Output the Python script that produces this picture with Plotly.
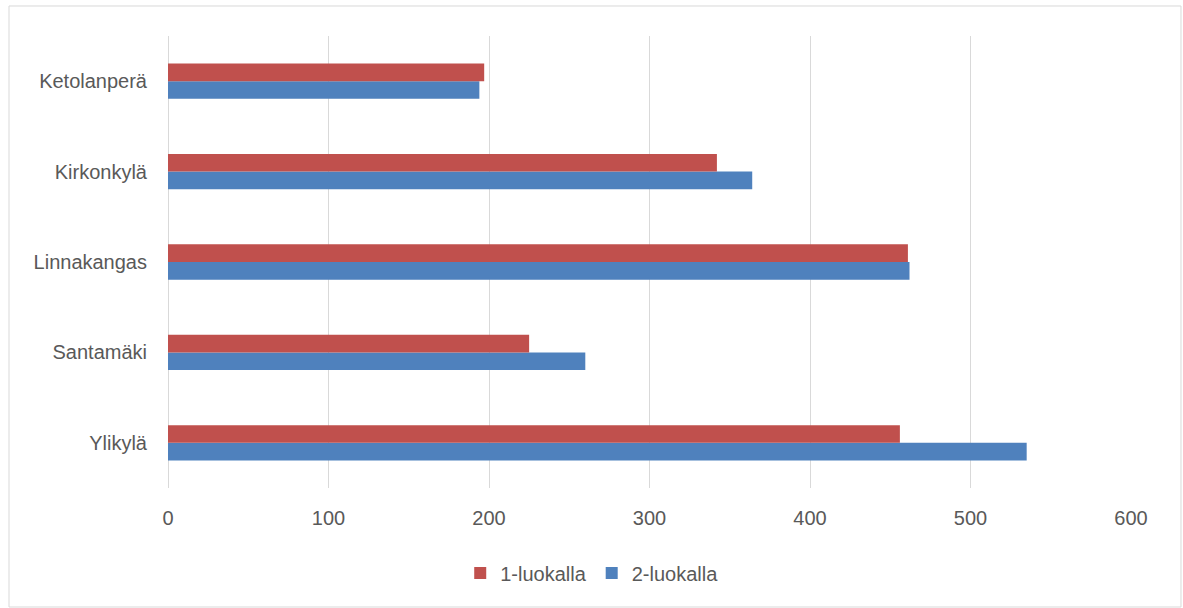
import plotly.graph_objects as go

categories = ["Ylikylä", "Santamäki", "Linnakangas", "Kirkonkylä", "Ketolanperä"]
luokka1 = [456, 225, 461, 342, 197]
luokka2 = [535, 260, 462, 364, 194]

fig = go.Figure()
fig.add_trace(go.Bar(y=categories, x=luokka2, orientation="h", name="2-luokalla",
                     marker=dict(color="#4F81BD", line=dict(width=0)), legendrank=2))
fig.add_trace(go.Bar(y=categories, x=luokka1, orientation="h", name="1-luokalla",
                     marker=dict(color="#C0504D", line=dict(width=0)), legendrank=1))

font_color = "#595959"
fig.update_layout(
    width=1183, height=608,
    margin=dict(l=168, r=52, t=36, b=120),
    paper_bgcolor="white", plot_bgcolor="white",
    barmode="group", bargap=0.61, bargroupgap=0,
    font=dict(family="Liberation Sans, Arial, sans-serif", size=20, color=font_color),
    xaxis=dict(range=[0, 600], dtick=100, showgrid=True, gridcolor="#D9D9D9", gridwidth=1,
               zeroline=True, zerolinecolor="#D9D9D9", zerolinewidth=1, showline=False,
               ticks="", ticklabelstandoff=16, tickfont=dict(size=20, color=font_color)),
    yaxis=dict(showgrid=False, showline=False, ticks="", ticklabelstandoff=20,
               tickfont=dict(size=20, color=font_color)),
    legend=dict(orientation="h", x=0.44, xanchor="center", y=-0.188, yanchor="middle",
                font=dict(size=20, color=font_color), itemwidth=30),
    showlegend=True,
    shapes=[dict(type="rect", xref="paper", yref="paper",
                 x0=-0.1651, x1=1.0519, y0=-0.2633, y1=1.0664,
                 line=dict(color="#D9D9D9", width=1), fillcolor="rgba(0,0,0,0)", layer="below")],
)

fig.write_html("out.html")
